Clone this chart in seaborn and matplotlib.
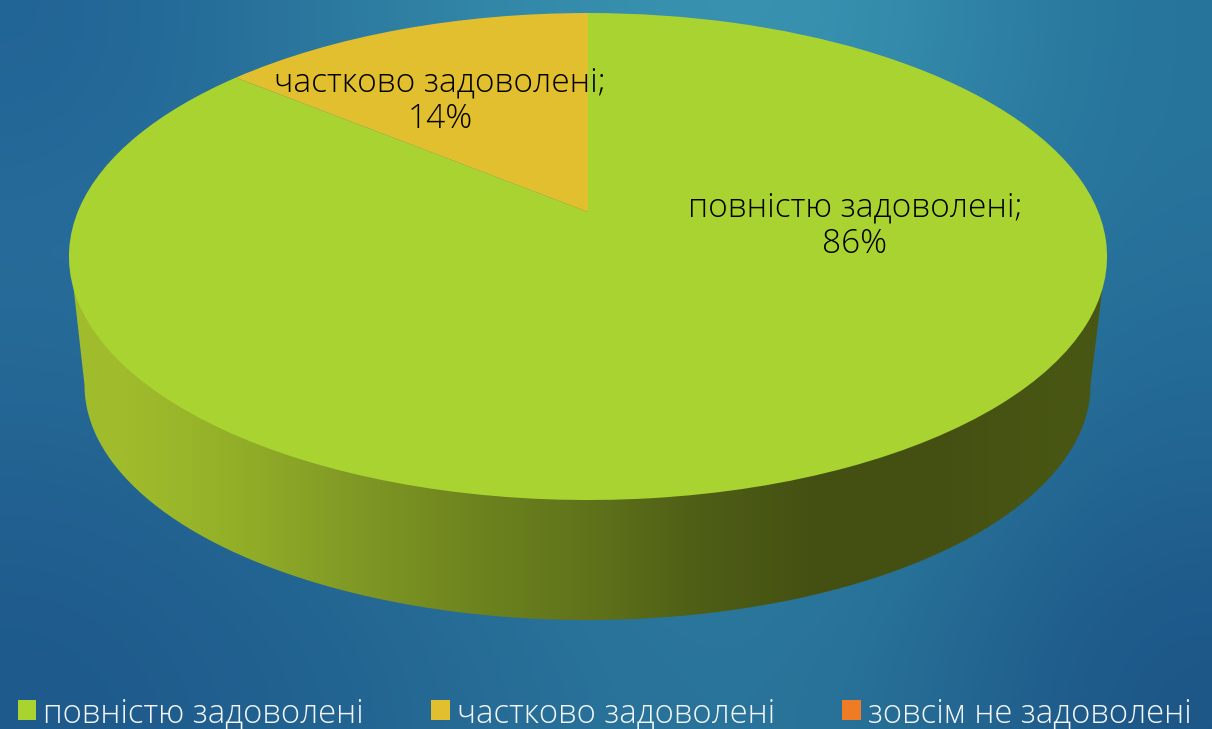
import numpy as np
import matplotlib
matplotlib.use("Agg")
import matplotlib.pyplot as plt
import seaborn as sns
from matplotlib.path import Path
from matplotlib.patches import PathPatch
from matplotlib.transforms import Transform

# ---- data ----
categories = ["повністю задоволені", "частково задоволені", "зовсім не задоволені"]
shares = [86, 14, 0]
slice_labels = ["повністю задоволені;\n86%", "частково задоволені;\n14%"]
label_xy = [(855, 226), (440, 101)]
slice_colors = ["#A9D331", "#E2BF2E", "#EF7B24"]

# ---- look ----
sns.set_theme(style="white")
plt.rcParams["font.family"] = ["Open Sans", "DejaVu Sans"]
W, H = 1212, 729
palette = sns.color_palette(slice_colors)

bg_grid = np.array([
    [(33, 100, 150), (46, 125, 160), (55, 145, 175), (58, 150, 178), (38, 115, 155)],
    [(40, 110, 155), (42, 118, 158), (46, 128, 162), (46, 128, 162), (38, 112, 155)],
    [(34, 98, 145), (40, 112, 152), (45, 125, 160), (46, 130, 160), (34, 100, 146)],
    [(30, 90, 140), (34, 100, 145), (42, 115, 155), (42, 118, 155), (28, 85, 135)],
]) / 255
side_shades = np.array([
    [(160, 188, 44), (146, 174, 40), (128, 152, 37), (110, 132, 30), (96, 115, 27),
     (78, 94, 22), (68, 80, 18), (68, 80, 18), (72, 86, 20)]
]) / 255

fig = plt.figure(figsize=(W / 100, H / 100), dpi=100)
ax = fig.add_axes([0, 0, 1, 1])

# background
ax.imshow(bg_grid, extent=(0, W, H, 0), aspect="auto", interpolation="bicubic", zorder=0)


class Tilt(Transform):
    """Perspective view of the unit pie, output in pixel data coordinates."""
    input_dims = output_dims = 2
    is_separable = False
    cx, apex_y, k, a, c = 588.0, 212.0, 510.3, -196.6, 0.1828

    def transform_non_affine(self, values):
        v = np.asarray(values, dtype=float)
        d = 1 + self.c * v[:, 1]
        return np.column_stack([self.cx + self.k * v[:, 0] / d,
                                (self.a * v[:, 1] + self.apex_y) / d])

    def transform_path_non_affine(self, path):
        return Path(self.transform_non_affine(path.vertices), path.codes)


# side wall of the disc
t = np.linspace(np.pi, 0, 200)
wall_x = 587.5 + 503 * np.cos(t)
wall_y = 385 + 235 * np.sin(t)
wall_xy = np.vstack([[(73, 283)], np.column_stack([wall_x, wall_y]), [(1103, 283)], [(588, 200)], [(73, 283)]])
wall = PathPatch(Path(wall_xy), transform=ax.transData, fc="none", ec="none")
ax.add_patch(wall)
im = ax.imshow(side_shades, extent=(70, 1105, H, 0), aspect="auto", interpolation="bilinear", zorder=1)
im.set_clip_path(wall)

# top of the disc
wedges, _ = ax.pie(shares, colors=palette, startangle=90, counterclock=False, radius=1,
                   wedgeprops=dict(linewidth=0, zorder=2))
for w in wedges:
    w.set_transform(w.get_patch_transform() + Tilt() + ax.transData)
ax.set_aspect("auto")
ax.set_xlim(0, W)
ax.set_ylim(H, 0)
ax.set_axis_off()

for s, (x, y) in zip(slice_labels, label_xy):
    ax.text(x, y, s, ha="center", va="center", fontsize=24, color="black",
            linespacing=1.14, fontweight="light", zorder=3)

fs = 23.7
leg = ax.legend(wedges, categories, ncol=3, loc="lower left", bbox_to_anchor=(18 / W, -1 / H),
                frameon=False, labelcolor="#F2F6F8", prop=dict(weight="light", size=fs),
                handlelength=0.55, handleheight=0.55, handletextpad=0.22, columnspacing=2.05,
                borderpad=0, borderaxespad=0)

fig.savefig("out.png", dpi=100)
